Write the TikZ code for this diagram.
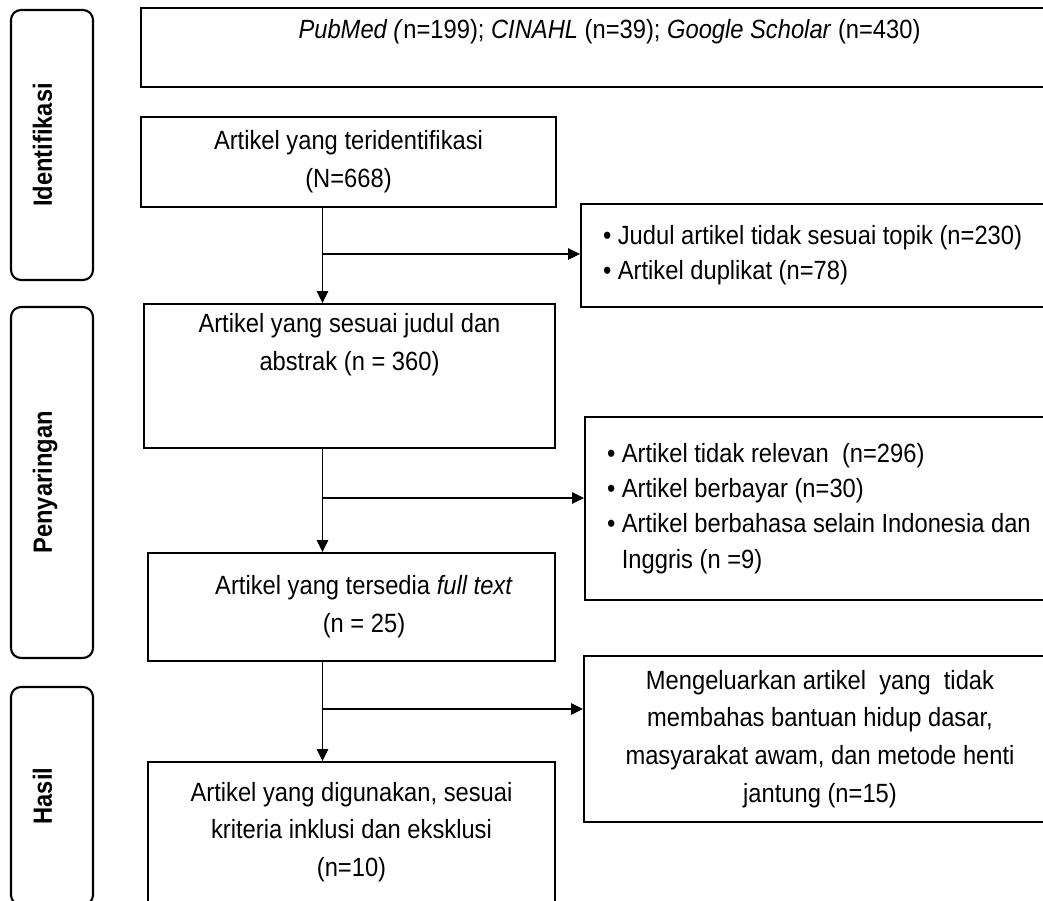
\documentclass[tikz,border=0pt]{standalone}
\usepackage{fontspec}
\setmainfont{Liberation Sans}[FakeStretch=0.9]
\usetikzlibrary{arrows.meta}
\tikzset{alurbox/.style={draw,line width=1.1pt,inner sep=0pt,align=center,font=\fontsize{15}{21.5}\selectfont},daftarbox/.style={alurbox,align=flush left,inner xsep=0.44cm,font=\fontsize{15}{20}\selectfont},tahapbox/.style={draw,line width=1.2pt,rounded corners=0.2cm,rotate=90,minimum height=1.64cm,text height=0.3cm,text depth=0.3cm,inner sep=0pt,font=\fontsize{15}{18}\selectfont\bfseries},alurarr/.style={-{Triangle[length=2.4mm,width=2.3mm]},line width=0.6pt}}

\begin{document}
\begin{tikzpicture}
\path[use as bounding box] (0,0) rectangle (20.86,-18.02);
\clip (0,0) rectangle (20.86,-18.02);
% tahap
\node[tahapbox,minimum width=5.4cm] (ident) at (1.04,-2.9) {Identifikasi};
\node[tahapbox,minimum width=7.02cm] (saring) at (1.04,-9.65) {Penyaringan};
\node[tahapbox,minimum width=4.36cm] (hasil) at (1.04,-15.92) {Hasil};
% alur utama
\node[alurbox,minimum width=18.74cm,minimum height=1.58cm] (sumber) at (12.19,-0.95) {\textit{PubMed (}n=199); \textit{CINAHL} (n=39); \textit{Google Scholar} (n=430)\\ \mbox{}};
\node[alurbox,minimum width=8.3cm,minimum height=1.8cm] (temu) at (6.97,-3.24) {Artikel yang teridentifikasi\\(N=668)};
\node[alurbox,minimum width=8.22cm,minimum height=2.88cm] (judul) at (6.99,-7.52) {Artikel yang sesuai judul dan\\abstrak (n = 360)\\[0.6cm]\mbox{}};
\node[alurbox,minimum width=8.14cm,minimum height=2.16cm] (teks) at (7.03,-12.14) {\hspace*{0.5cm}Artikel yang tersedia \textit{full text}\\\hspace*{0.5cm}(n = 25)};
\node[alurbox,minimum width=8.14cm,minimum height=2.8cm] (akhir) at (7.03,-16.64) {Artikel yang digunakan, sesuai\\kriteria inklusi dan eksklusi\\(n=10)};
% dikeluarkan
\node[daftarbox,text width=9.1cm,minimum height=2.06cm] (keluar1) at (16.61,-5.11) {\textbullet\ Judul artikel tidak sesuai topik (n=230)\\\textbullet\ Artikel duplikat (n=78)};
\node[daftarbox,text width=9.02cm,minimum height=3.66cm] (keluar2) at (16.65,-10.17) {\textbullet\ Artikel tidak relevan\ \ (n=296)\\\textbullet\ Artikel berbayar (n=30)\\\textbullet\ Artikel berbahasa selain Indonesia dan\\\phantom{\textbullet\ }Inggris (n =9)};
\node[alurbox,minimum width=9.44cm,minimum height=3.32cm] (keluar3) at (16.4,-14.78) {Mengeluarkan artikel\ \ yang\ \ tidak\\membahas bantuan hidup dasar,\\masyarakat awam, dan metode henti\\jantung (n=15)};
% panah
\coordinate (poros) at (6.45,0);
\coordinate (cab1) at (6.45,-5.08);
\coordinate (cab2) at (6.45,-9.96);
\coordinate (cab3) at (6.45,-14.18);
\draw[alurarr] (temu.south -| poros) -- (judul.north -| poros);
\draw[alurarr] (judul.south -| poros) -- (teks.north -| poros);
\draw[alurarr] (teks.south -| poros) -- (akhir.north -| poros);
\foreach \i in {1,2,3} \draw[alurarr] (cab\i) -- (cab\i -| keluar\i.west);
\end{tikzpicture}
\end{document}
